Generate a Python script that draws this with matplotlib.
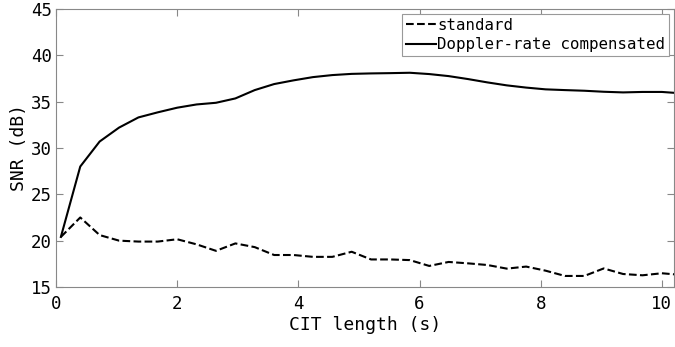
import matplotlib
matplotlib.use("Agg")
import matplotlib.pyplot as plt

# CIT lengths (s)
cit = [0.08, 0.40, 0.72, 1.04, 1.36, 1.68, 2.00, 2.32, 2.64, 2.96,
       3.28, 3.60, 3.92, 4.24, 4.56, 4.88, 5.20, 5.52, 5.84, 6.16,
       6.48, 6.80, 7.12, 7.44, 7.76, 8.08, 8.40, 8.72, 9.04, 9.36,
       9.68, 10.00, 10.32]

snr_standard = [20.4, 22.5, 20.6, 20.0, 19.9, 19.9, 20.15, 19.6, 18.9, 19.7,
                19.3, 18.45, 18.45, 18.25, 18.25, 18.8, 17.97, 17.97, 17.9, 17.27,
                17.7, 17.55, 17.37, 16.98, 17.2, 16.76, 16.19, 16.19, 17.0, 16.4,
                16.26, 16.48, 16.3]

snr_comp = [20.4, 28.0, 30.7, 32.2, 33.3, 33.85, 34.35, 34.7, 34.88, 35.35,
            36.25, 36.9, 37.3, 37.65, 37.87, 38.0, 38.05, 38.08, 38.12, 37.98,
            37.76, 37.44, 37.08, 36.76, 36.52, 36.33, 36.25, 36.18, 36.07, 36.0,
            36.05, 36.05, 35.9]

plt.rcParams['font.family'] = ['DejaVu Sans Mono']

fig = plt.figure(figsize=(6.75, 3.47), dpi=100)
ax = fig.add_axes([0.083, 0.173, 0.9155, 0.801])

ax.plot(cit, snr_standard, 'k--', lw=1.5, label='standard')
ax.plot(cit, snr_comp, 'k-', lw=1.5, label='Doppler-rate compensated')

ax.set_xlim(0, 10.2)
ax.set_ylim(15, 45)
ax.set_xticks([0, 2, 4, 6, 8, 10])
ax.set_yticks([15, 20, 25, 30, 35, 40, 45])
ax.set_xlabel('CIT length (s)', fontsize=13, labelpad=2)
ax.set_ylabel('SNR (dB)', fontsize=13, labelpad=2)

for s in ax.spines.values():
    s.set_color('#888888')
    s.set_linewidth(0.8)
ax.tick_params(direction='in', top=True, right=True, length=5, width=0.8,
               color='#888888', labelsize=12.5, labelcolor='black')
ax.tick_params(axis='y', pad=3)
ax.tick_params(axis='x', pad=6)

leg = ax.legend(loc='upper right', fontsize=11.3, handlelength=1.9,
                handletextpad=0.1, labelspacing=0.3, borderpad=0.25,
                borderaxespad=0.3, fancybox=False, framealpha=1)
leg.get_frame().set_edgecolor('#999999')
leg.get_frame().set_linewidth(0.8)

fig.savefig('out.png', dpi=100)
